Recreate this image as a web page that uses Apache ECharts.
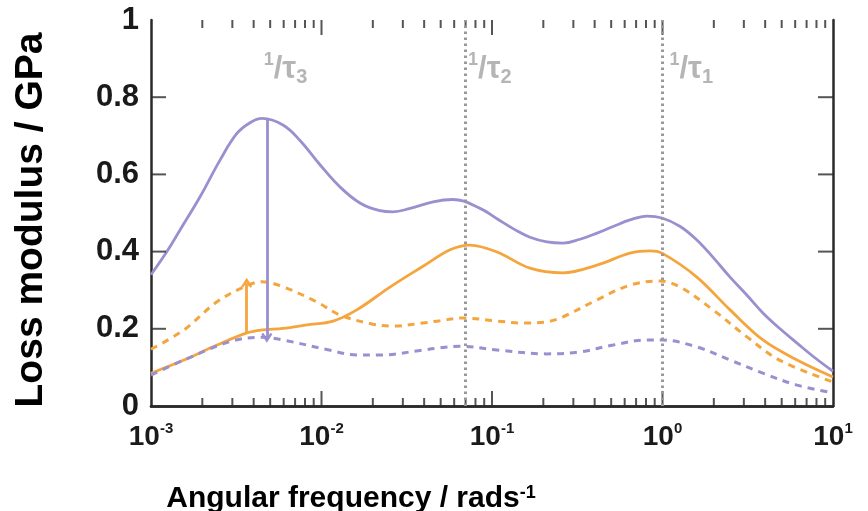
<!DOCTYPE html>
<html>
<head>
<meta charset="utf-8">
<script src="https://cdn.jsdelivr.net/npm/echarts@6/dist/echarts.min.js"></script>
<style>
  html, body { margin: 0; padding: 0; background: #fff; }
  #chart { width: 868px; height: 511px; }
</style>
</head>
<body>
<div id="chart"></div>
<script>
// [frequency (rad/s), loss modulus (GPa)]
const purpleSolid = [
  [0.001, 0.34], [0.00124, 0.40], [0.00148, 0.456], [0.00194, 0.542], [0.00254, 0.637],
  [0.00319, 0.706], [0.00381, 0.734], [0.00448, 0.745], [0.00594, 0.728],
  [0.00748, 0.688], [0.0098, 0.625], [0.0128, 0.568], [0.0168, 0.526], [0.022, 0.506],
  [0.0262, 0.503], [0.0331, 0.512], [0.0451, 0.529], [0.059, 0.535], [0.0851, 0.512],
  [0.107, 0.485], [0.136, 0.457], [0.167, 0.437], [0.21, 0.425],
  [0.261, 0.422], [0.328, 0.432], [0.413, 0.448], [0.513, 0.465], [0.644, 0.482],
  [0.811, 0.492], [0.993, 0.487], [1.27, 0.465], [1.59, 0.43], [1.98, 0.385],
  [2.49, 0.334], [3.13, 0.287], [3.88, 0.241], [4.89, 0.2], [6.15, 0.163],
  [7.83, 0.125], [10, 0.09]
];
const orangeSolid = [
  [0.001, 0.085], [0.00156, 0.119], [0.00244, 0.158], [0.00369, 0.19], [0.00448, 0.197],
  [0.00594, 0.201], [0.00822, 0.21], [0.0117, 0.22], [0.0161, 0.249], [0.0252, 0.308],
  [0.0394, 0.362], [0.0568, 0.405], [0.0743, 0.417], [0.107, 0.399],
  [0.167, 0.357], [0.261, 0.345], [0.413, 0.365], [0.644, 0.396], [0.845, 0.402],
  [0.993, 0.396], [1.59, 0.334], [2.49, 0.249], [3.88, 0.171], [6.15, 0.119], [10, 0.075]
];
const orangeDashed = [
  [0.001, 0.147], [0.00156, 0.197], [0.00244, 0.27], [0.00369, 0.313], [0.00448, 0.322],
  [0.00594, 0.309], [0.00935, 0.27], [0.0128, 0.236], [0.02, 0.212], [0.0262, 0.207],
  [0.0394, 0.215], [0.0495, 0.221], [0.0676, 0.228], [0.107, 0.22], [0.152, 0.215],
  [0.21, 0.218], [0.261, 0.231], [0.413, 0.275], [0.644, 0.313], [0.966, 0.324],
  [1.27, 0.308], [1.98, 0.249], [3.13, 0.179], [4.85, 0.119], [10, 0.062]
];
const purpleDashed = [
  [0.001, 0.08], [0.00156, 0.119], [0.00291, 0.167], [0.00448, 0.178], [0.00594, 0.171],
  [0.0111, 0.145], [0.0161, 0.132], [0.022, 0.132], [0.0394, 0.145],
  [0.0495, 0.151], [0.0649, 0.155], [0.107, 0.145], [0.21, 0.135], [0.328, 0.14],
  [0.513, 0.158], [0.811, 0.171], [1.0, 0.171], [1.59, 0.153], [2.49, 0.119],
  [3.88, 0.085], [6.15, 0.054], [10, 0.034]
];
// arrows: [freq, from, to]
const orangeArrow = [0.00364, 0.19, 0.319];
const purpleArrow = [0.00478, 0.745, 0.177];
// relaxation frequencies 1/tau3, 1/tau2, 1/tau1
const tauFreqs = [0.00417, 0.0658, 1.0];
const tauNames = ['3', '2', '1'];
const tauLabelY = 0.872;
// tick positions
const xMajor = [0.01, 0.1, 1];
const yMajor = [0.2, 0.4, 0.6, 0.8];
const minorTicks = [];
[0.001, 0.01, 0.1, 1].forEach(d => {
  for (let k = 2; k <= 9; k++) minorTicks.push(+(d * k).toPrecision(3));
});

const purple = '#9a8fcf';
const orange = '#f5a53d';
const frame = '#2a2a2a';
const fontFam = 'Liberation Sans, Arial, sans-serif';

const chart = echarts.init(document.getElementById('chart'));

const axisBase = {
  type: 'log',
  logBase: 10,
  min: 0.001,
  max: 10,
  splitNumber: 4,
  axisLine: { show: true, lineStyle: { color: frame, width: 2.5 } },
  axisTick: { show: false },
  splitLine: { show: false },
};
const yBase = {
  type: 'value',
  min: 0,
  max: 1,
  interval: 0.2,
  axisLine: { show: true, lineStyle: { color: frame, width: 2.5 } },
  axisTick: { show: false },
  splitLine: { show: false },
};

const arrowPath = 'path://M5,0 L10,7 L8.3,8.2 L5,3.6 L1.7,8.2 L0,7 Z';

function arrowLine(a) {
  return [{ coord: [a[0], a[1]] }, { coord: [a[0], a[2]] }];
}

// tick marks drawn as small rect symbols on the axes' own scales
function tickSeries(data, size, offset) {
  return {
    type: 'scatter',
    silent: true,
    clip: false,
    symbol: 'rect',
    symbolSize: size,
    symbolOffset: offset,
    itemStyle: { color: frame },
    data: data,
    z: 3,
  };
}

chart.setOption({
  animation: false,
  grid: { left: 151, right: 35, top: 20, bottom: 105, outerBoundsMode: 'none' },
  xAxis: [
    Object.assign({}, axisBase, {
      position: 'bottom',
      axisLabel: {
        margin: 15,
        formatter: v => '{b|10}{s|' + Math.round(Math.log10(v)) + '}',
        rich: {
          b: { fontSize: 28, fontWeight: 'bold', fontFamily: fontFam, color: '#1a1a1a', lineHeight: 32 },
          s: { fontSize: 15, fontWeight: 'bold', fontFamily: fontFam, color: '#1a1a1a', verticalAlign: 'top', lineHeight: 16 },
        },
      },
      name: 'Angular frequency / rads{s|-1}',
      nameLocation: 'middle',
      nameGap: 78,
      nameTextStyle: {
        fontSize: 30, fontWeight: 'bold', fontFamily: fontFam, color: '#000',
        padding: [0, 282, 0, 0],
        rich: {
          s: { fontSize: 18, fontWeight: 'bold', fontFamily: fontFam, color: '#000', verticalAlign: 'top', lineHeight: 18 },
        },
      },
    }),
    Object.assign({}, axisBase, { position: 'top', axisLabel: { show: false } }),
  ],
  yAxis: [
    Object.assign({}, yBase, {
      position: 'left',
      axisLabel: {
        margin: 12,
        fontSize: 31, fontWeight: 'bold', fontFamily: fontFam, color: '#1a1a1a',
      },
      name: 'Loss modulus / GPa',
      nameLocation: 'middle',
      nameGap: 100,
      nameTextStyle: {
        fontSize: 39, fontWeight: 'bold', fontFamily: fontFam, color: '#000',
        padding: [0, 14, 0, 0],
      },
    }),
    Object.assign({}, yBase, { position: 'right', axisLabel: { show: false } }),
  ],
  series: [
    tickSeries(minorTicks.map(f => [f, 0]), [2, 8], [0, -4]),
    tickSeries(minorTicks.map(f => [f, 1]), [2, 8], [0, 4]),
    tickSeries(xMajor.map(f => [f, 0]), [2, 15], [0, -7.5]),
    tickSeries(xMajor.map(f => [f, 1]), [2, 15], [0, 7.5]),
    tickSeries(yMajor.map(v => [0.001, v]), [15, 2], [7.5, 0]),
    tickSeries(yMajor.map(v => [10, v]), [15, 2], [-7.5, 0]),
    {
      type: 'scatter',
      silent: true,
      symbolSize: 0,
      data: tauFreqs.map(f => [f, tauLabelY]),
      label: {
        show: true,
        position: 'right',
        distance: 7,
        formatter: p => '{u|1}{m|/τ}{d|' + tauNames[p.dataIndex] + '}',
        rich: {
          u: { fontSize: 18, fontWeight: 'bold', fontFamily: fontFam, color: '#a3a3a3', verticalAlign: 'top', lineHeight: 18 },
          m: { fontSize: 31, fontWeight: 'bold', fontFamily: fontFam, color: '#a3a3a3', lineHeight: 36 },
          d: { fontSize: 20, fontWeight: 'bold', fontFamily: fontFam, color: '#a3a3a3', verticalAlign: 'bottom', lineHeight: 14 },
        },
      },
      markLine: {
        silent: true,
        symbol: 'none',
        label: { show: false },
        lineStyle: { color: '#999', width: 3, type: [2.5, 3.5] },
        data: tauFreqs.map(f => ({ xAxis: f })),
      },
    },
    {
      name: 'purple solid',
      type: 'line',
      smooth: 0.4,
      showSymbol: false,
      lineStyle: { color: purple, width: 2.8 },
      data: purpleSolid,
      markLine: {
        silent: true,
        symbol: ['none', arrowPath],
        symbolSize: [11, 10],
        label: { show: false },
        lineStyle: { color: purple, width: 2.8, type: 'solid' },
        itemStyle: { color: purple },
        data: [arrowLine(purpleArrow)],
      },
    },
    {
      name: 'orange solid',
      type: 'line',
      smooth: 0.35,
      showSymbol: false,
      lineStyle: { color: orange, width: 2.8 },
      data: orangeSolid,
      markLine: {
        silent: true,
        symbol: ['none', arrowPath],
        symbolSize: [11, 10],
        label: { show: false },
        lineStyle: { color: orange, width: 2.8, type: 'solid' },
        itemStyle: { color: orange },
        data: [arrowLine(orangeArrow)],
      },
    },
    {
      name: 'orange dashed',
      type: 'line',
      smooth: 0.35,
      showSymbol: false,
      lineStyle: { color: orange, width: 3, type: [7, 6] },
      data: orangeDashed,
    },
    {
      name: 'purple dashed',
      type: 'line',
      smooth: 0.35,
      showSymbol: false,
      lineStyle: { color: purple, width: 3, type: [7, 6] },
      data: purpleDashed,
    },
  ],
});
</script>
</body>
</html>
